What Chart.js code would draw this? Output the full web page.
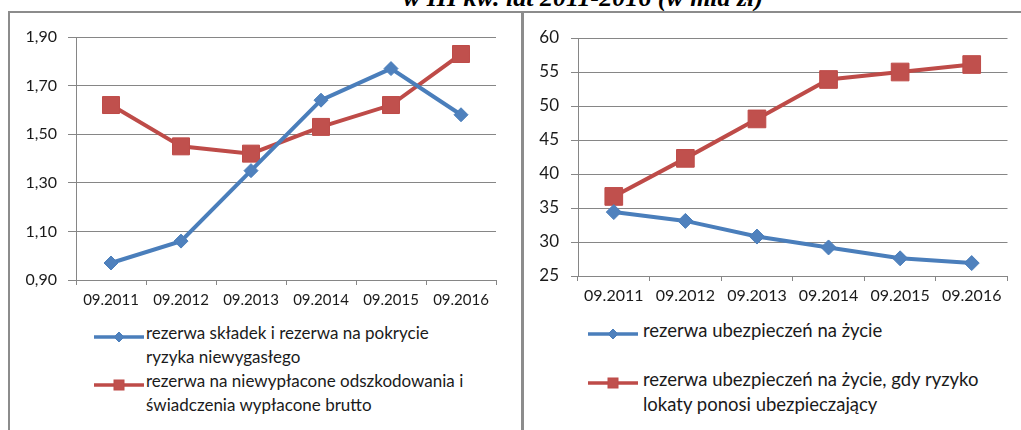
<!DOCTYPE html>
<html>
<head>
<meta charset="utf-8">
<script src="https://cdn.jsdelivr.net/npm/chart.js@4.4.0/dist/chart.umd.min.js"></script>
<style>
  html, body { margin:0; padding:0; background:#fff; }
  body { width:1021px; height:430px; position:relative; overflow:hidden; font-family: Lato, "Open Sans", sans-serif; }
  #title { position:absolute; left:0; width:1166px; text-align:center; top:-17px; font-family:"Liberation Serif","Times New Roman",serif; font-weight:bold; font-style:italic; font-size:26px; line-height:29px; color:#000; white-space:nowrap; }
  .bline { position:absolute; background:#8c8c8c; }
  canvas { position:absolute; }
  .leg { position:absolute; color:#1a1a1a; white-space:nowrap; }
</style>
</head>
<body>
<div id="title">w III kw. lat 2011-2016 (w mld zł)</div>
<div class="bline" style="left:8px; top:11px; width:1013px; height:2px;"></div>
<div class="bline" style="left:8px; top:11px; width:2px; height:419px;"></div>
<div class="bline" style="left:521px; top:11px; width:3px; height:419px;"></div>

<canvas id="c1" width="511" height="300" style="left:10px; top:14px;"></canvas>
<canvas id="c2" width="497" height="300" style="left:524px; top:14px;"></canvas>

<div id="leg1"></div>
<div id="leg2"></div>

<script>
const categories = ['09.2011','09.2012','09.2013','09.2014','09.2015','09.2016'];
const leftSeriesNames = [['rezerwa składek i rezerwa na pokrycie', 'ryzyka niewygasłego'], ['rezerwa na niewypłacone odszkodowania i', 'świadczenia wypłacone brutto']];
const leftBlue = [0.97, 1.06, 1.35, 1.64, 1.77, 1.58];
const leftRed = [1.62, 1.45, 1.42, 1.53, 1.62, 1.83];
const rightSeriesNames = [['rezerwa ubezpieczeń na życie'], ['rezerwa ubezpieczeń na życie, gdy ryzyko', 'lokaty ponosi ubezpieczający']];
const rightBlue = [34.4, 33.1, 30.8, 29.2, 27.6, 26.9];
const rightRed = [36.7, 42.3, 48.1, 53.9, 55.0, 56.1];
const leftTicks = [0.90, 1.10, 1.30, 1.50, 1.70, 1.90];
const rightTicks = [25, 30, 35, 40, 45, 50, 55, 60];

const BLUE = '#4a7ebb', BLUE_F = '#4f81bd', RED = '#be4b48', RED_F = '#c0504d';
const GRID = '#868686';
const TXT = '#1a1a1a';

function ds(label, data, color, fill, style, r) {
  return { label, data, borderColor: color, backgroundColor: fill, borderWidth: 4,
    pointStyle: style, pointRadius: r, pointHoverRadius: r, pointBackgroundColor: fill,
    pointBorderColor: color, pointBorderWidth: 1, tension: 0, fill: false };
}

function makeChart(id, blue, red, names, ticksArr, fmt, opts) {
  new Chart(document.getElementById(id), {
    type: 'line',
    data: { labels: categories, datasets: [
      ds(names[0].join(' '), blue, BLUE, BLUE_F, 'rectRot', opts.dr),
      ds(names[1].join(' '), red, RED, RED_F, 'rect', opts.sr)
    ]},
    options: {
      responsive: false, animation: false, devicePixelRatio: 1,
      layout: { padding: { top: opts.pt, right: opts.pr, left: 0, bottom: 0 } },
      plugins: { legend: { display: false }, tooltip: { enabled: false } },
      scales: {
        x: {
          offset: true,
          grid: { offset: true, drawOnChartArea: false, drawTicks: true, tickLength: 5, color: GRID },
          border: { color: GRID, width: 1 },
          ticks: { color: TXT, font: { family: 'Lato', size: opts.xf }, padding: opts.xp, maxRotation: 0, autoSkip: false },
          afterFit: s => { s.height = opts.xh; }
        },
        y: {
          min: ticksArr[0], max: ticksArr[ticksArr.length-1],
          afterBuildTicks: s => { s.ticks = ticksArr.map(v => ({ value: v })); },
          grid: { color: GRID, tickLength: opts.yt, drawTicks: true },
          border: { color: GRID, width: 1 },
          ticks: { color: TXT, font: { family: 'Lato', size: opts.yf }, padding: opts.yp, callback: fmt },
          afterFit: s => { s.width = opts.yw; }
        }
      }
    }
  });
}

makeChart('c1', leftBlue, leftRed, leftSeriesNames, leftTicks,
  v => Number(v).toFixed(2).replace('.', ','),
  { pt: 23, pr: 25, xh: 34, yw: 66, yt: 8, yp: 11, yf: 16, xf: 15, xp: 6, dr: 7, sr: 12 });
makeChart('c2', rightBlue, rightRed, rightSeriesNames, rightTicks,
  v => String(v),
  { pt: 24, pr: 13, xh: 38, yw: 54, yt: 7, yp: 12, yf: 17, xf: 16, xp: 5, dr: 7.5, sr: 12.5 });

function icon(style, color, fill) {
  const m = style === 'diamond'
    ? `<polygon points="25,1 30,6 25,11 20,6" fill="${fill}" stroke="${color}" stroke-width="1"/>`
    : `<rect x="20" y="1" width="10" height="10" fill="${fill}" stroke="${color}" stroke-width="1"/>`;
  return `<svg width="50" height="12" viewBox="0 0 50 12"><line x1="0" y1="6" x2="50" y2="6" stroke="${color}" stroke-width="3.5"/>${m}</svg>`;
}

function legend(containerId, items, fs, lh) {
  const c = document.getElementById(containerId);
  items.forEach(it => {
    const d = document.createElement('div');
    d.className = 'leg';
    d.style.left = it.tx + 'px';
    d.style.top = (it.ty - lh / 2) + 'px';
    d.style.fontSize = fs + 'px';
    d.style.lineHeight = lh + 'px';
    it.lines.forEach((ln, i) => {
      const sp = document.createElement('div');
      sp.textContent = ln;
      d.appendChild(sp);
    });
    c.appendChild(d);
    const s = document.createElement('div');
    s.style.position = 'absolute';
    s.style.left = it.ix + 'px';
    s.style.top = (it.ty - 6) + 'px';
    s.innerHTML = icon(it.style, it.color, it.fill);
    c.appendChild(s);
  });
}

legend('leg1', [
  { lines: leftSeriesNames[0], tx: 146, ty: 333, ix: 94, style: 'diamond', color: BLUE, fill: BLUE_F },
  { lines: leftSeriesNames[1], tx: 146, ty: 381, ix: 94, style: 'square', color: RED, fill: RED_F }
], 17, 24);
legend('leg2', [
  { lines: rightSeriesNames[0], tx: 643, ty: 330, ix: 588, style: 'diamond', color: BLUE, fill: BLUE_F },
  { lines: rightSeriesNames[1], tx: 643, ty: 379, ix: 588, style: 'square', color: RED, fill: RED_F }
], 18.5, 25);
</script>
</body>
</html>
